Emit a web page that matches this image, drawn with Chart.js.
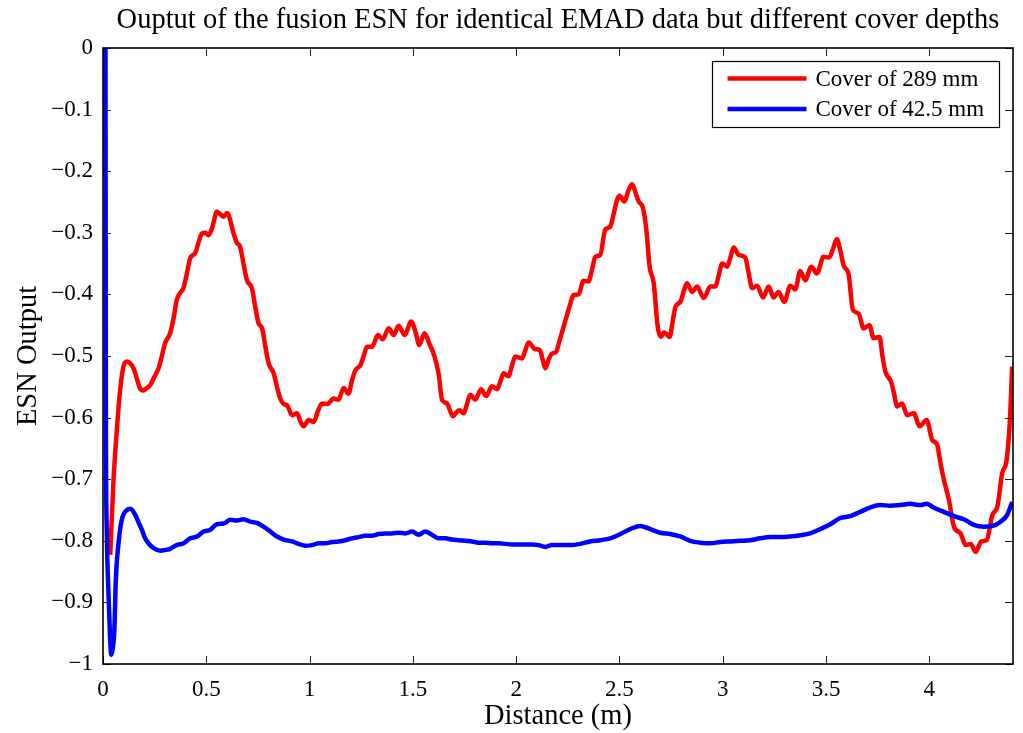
<!DOCTYPE html>
<html>
<head>
<meta charset="utf-8">
<script src="https://cdn.jsdelivr.net/npm/chart.js@4.4.1/dist/chart.umd.min.js"></script>
<style>
  html, body { margin: 0; padding: 0; background: #fff; }
  #esnChart { display: block; }
</style>
</head>
<body>
<canvas id="esnChart" width="1023" height="733"></canvas>
<script>
// ESN output along the scan, two cover depths
const seriesLabels = ['Cover of 289 mm', 'Cover of 42.5 mm'];

const redX = [0.035, 0.051, 0.067, 0.083, 0.099, 0.116, 0.132, 0.148, 0.165, 0.18, 0.196, 0.212, 0.229, 0.25, 0.269, 0.285,
  0.301, 0.325, 0.341, 0.357, 0.373, 0.389, 0.405, 0.422, 0.446, 0.463, 0.479, 0.495, 0.511, 0.53, 0.551, 0.568,
  0.584, 0.6, 0.608, 0.62, 0.632, 0.648, 0.664, 0.68, 0.697, 0.721, 0.737, 0.753, 0.77, 0.786, 0.802, 0.826,
  0.842, 0.858, 0.875, 0.891, 0.915, 0.939, 0.955, 0.971, 0.996, 1.02, 1.04, 1.06, 1.087, 1.116, 1.14, 1.165,
  1.189, 1.205, 1.222, 1.246, 1.262, 1.278, 1.302, 1.331, 1.354, 1.383, 1.407, 1.431, 1.46, 1.492, 1.512, 1.531,
  1.556, 1.58, 1.605, 1.625, 1.641, 1.665, 1.694, 1.71, 1.726, 1.746, 1.762, 1.778, 1.802, 1.83, 1.855, 1.883,
  1.907, 1.925, 1.939, 1.963, 1.98, 1.996, 2.028, 2.045, 2.06, 2.092, 2.114, 2.13, 2.141, 2.158, 2.173, 2.194,
  2.21, 2.237, 2.258, 2.278, 2.302, 2.326, 2.35, 2.367, 2.383, 2.407, 2.431, 2.455, 2.475, 2.488, 2.501, 2.523,
  2.545, 2.561, 2.578, 2.593, 2.614, 2.63, 2.646, 2.666, 2.685, 2.701, 2.715, 2.727, 2.743, 2.757, 2.771, 2.795,
  2.811, 2.827, 2.852, 2.876, 2.908, 2.94, 2.964, 2.98, 2.997, 3.021, 3.037, 3.053, 3.077, 3.109, 3.125, 3.142,
  3.166, 3.195, 3.222, 3.246, 3.27, 3.298, 3.327, 3.351, 3.375, 3.399, 3.429, 3.456, 3.488, 3.515, 3.535, 3.552,
  3.57, 3.585, 3.609, 3.63, 3.657, 3.682, 3.71, 3.73, 3.759, 3.773, 3.787, 3.815, 3.83, 3.844, 3.868, 3.893,
  3.925, 3.953, 3.987, 4.014, 4.038, 4.052, 4.067, 4.095, 4.119, 4.151, 4.176, 4.2, 4.224, 4.252, 4.278, 4.305,
  4.329, 4.353, 4.374, 4.39, 4.401];
const redY = [-0.823, -0.701, -0.62, -0.555, -0.517, -0.509, -0.512, -0.52, -0.538, -0.553, -0.556, -0.552, -0.547, -0.533, -0.52, -0.5,
  -0.479, -0.463, -0.44, -0.409, -0.398, -0.39, -0.368, -0.341, -0.333, -0.315, -0.301, -0.3, -0.304, -0.29, -0.266, -0.27,
  -0.274, -0.268, -0.271, -0.285, -0.301, -0.316, -0.323, -0.35, -0.377, -0.39, -0.42, -0.447, -0.455, -0.485, -0.512, -0.528,
  -0.55, -0.569, -0.578, -0.58, -0.596, -0.593, -0.606, -0.614, -0.604, -0.607, -0.59, -0.577, -0.578, -0.569, -0.571, -0.552,
  -0.561, -0.54, -0.523, -0.515, -0.5, -0.485, -0.485, -0.466, -0.473, -0.455, -0.466, -0.451, -0.466, -0.444, -0.46, -0.482,
  -0.463, -0.48, -0.501, -0.53, -0.571, -0.577, -0.598, -0.592, -0.588, -0.593, -0.578, -0.563, -0.571, -0.554, -0.565, -0.549,
  -0.554, -0.54, -0.528, -0.533, -0.515, -0.501, -0.504, -0.49, -0.478, -0.489, -0.49, -0.508, -0.52, -0.505, -0.496, -0.493,
  -0.475, -0.444, -0.42, -0.401, -0.4, -0.378, -0.379, -0.36, -0.339, -0.336, -0.295, -0.29, -0.265, -0.247, -0.24, -0.249,
  -0.23, -0.221, -0.235, -0.249, -0.26, -0.295, -0.355, -0.382, -0.452, -0.469, -0.462, -0.464, -0.469, -0.445, -0.42, -0.412,
  -0.395, -0.382, -0.396, -0.387, -0.406, -0.387, -0.387, -0.37, -0.35, -0.355, -0.34, -0.324, -0.336, -0.34, -0.365, -0.39,
  -0.386, -0.405, -0.387, -0.405, -0.396, -0.412, -0.386, -0.392, -0.362, -0.377, -0.355, -0.366, -0.339, -0.34, -0.325, -0.31,
  -0.33, -0.353, -0.367, -0.425, -0.431, -0.455, -0.45, -0.471, -0.469, -0.5, -0.525, -0.542, -0.562, -0.582, -0.577, -0.596,
  -0.593, -0.614, -0.604, -0.636, -0.644, -0.67, -0.696, -0.734, -0.777, -0.788, -0.807, -0.805, -0.818, -0.801, -0.799, -0.758,
  -0.745, -0.69, -0.669, -0.604, -0.517];

const blueX = [0.012, 0.013, 0.014, 0.018, 0.027, 0.034, 0.04, 0.047, 0.055, 0.062, 0.075, 0.091, 0.116, 0.132, 0.156, 0.172,
  0.188, 0.204, 0.22, 0.245, 0.277, 0.3, 0.325, 0.357, 0.39, 0.422, 0.455, 0.487, 0.519, 0.552, 0.584, 0.616,
  0.648, 0.68, 0.713, 0.745, 0.777, 0.81, 0.842, 0.874, 0.915, 0.947, 0.979, 1.012, 1.044, 1.076, 1.108, 1.14,
  1.173, 1.205, 1.237, 1.269, 1.302, 1.334, 1.366, 1.399, 1.431, 1.463, 1.496, 1.528, 1.56, 1.592, 1.625, 1.657,
  1.689, 1.721, 1.754, 1.786, 1.818, 1.85, 1.883, 1.915, 1.948, 1.98, 2.012, 2.044, 2.077, 2.109, 2.141, 2.173,
  2.213, 2.261, 2.31, 2.358, 2.407, 2.455, 2.504, 2.552, 2.6, 2.625, 2.649, 2.697, 2.746, 2.794, 2.842, 2.891,
  2.939, 2.988, 3.036, 3.084, 3.133, 3.181, 3.23, 3.278, 3.326, 3.375, 3.423, 3.472, 3.52, 3.568, 3.617, 3.665,
  3.713, 3.762, 3.81, 3.859, 3.907, 3.955, 3.988, 4.02, 4.07, 4.119, 4.167, 4.215, 4.264, 4.304, 4.345, 4.377,
  4.401];
const blueY = [0, -0.3, -0.6, -0.78, -0.89, -0.955, -0.985, -0.975, -0.945, -0.864, -0.804, -0.766, -0.75, -0.748, -0.758, -0.77,
  -0.782, -0.796, -0.804, -0.812, -0.816, -0.815, -0.813, -0.807, -0.804, -0.796, -0.793, -0.785, -0.782, -0.773, -0.772, -0.766,
  -0.767, -0.765, -0.769, -0.771, -0.777, -0.785, -0.793, -0.798, -0.801, -0.805, -0.808, -0.807, -0.804, -0.804, -0.802, -0.801,
  -0.799, -0.796, -0.794, -0.792, -0.792, -0.789, -0.788, -0.788, -0.787, -0.788, -0.785, -0.79, -0.785, -0.79, -0.796, -0.796,
  -0.798, -0.799, -0.8, -0.801, -0.803, -0.803, -0.804, -0.804, -0.805, -0.806, -0.806, -0.806, -0.806, -0.807, -0.81, -0.807,
  -0.807, -0.807, -0.805, -0.801, -0.799, -0.796, -0.789, -0.781, -0.776, -0.778, -0.781, -0.787, -0.789, -0.793, -0.8, -0.803,
  -0.804, -0.802, -0.801, -0.8, -0.799, -0.796, -0.794, -0.794, -0.793, -0.791, -0.788, -0.781, -0.773, -0.763, -0.76, -0.753,
  -0.746, -0.742, -0.743, -0.742, -0.74, -0.742, -0.74, -0.746, -0.753, -0.76, -0.765, -0.774, -0.777, -0.776, -0.769, -0.758,
  -0.737];

const xTicks = [0, 0.5, 1, 1.5, 2, 2.5, 3, 3.5, 4];
const yTicks = [0, -0.1, -0.2, -0.3, -0.4, -0.5, -0.6, -0.7, -0.8, -0.9, -1];
const xMax = 4.405;

const serif = "'Liberation Serif', 'Times New Roman', serif";
const toPoints = (xs, ys) => xs.map((x, i) => ({ x: x, y: ys[i] }));

// matlab-style negative numbers with a real minus sign
function fmtY(v) {
  const r = Math.round(v * 10) / 10;
  if (r === 0) return '0';
  const s = Number.isInteger(r) ? String(Math.abs(r)) : Math.abs(r).toFixed(1);
  return (r < 0 ? '\u2212' : '') + s;
}

// box round the axes plus inward tick marks on all four sides
const axesBox = {
  id: 'axesBox',
  afterDatasetsDraw(chart) {
    const { ctx, chartArea: a, scales } = chart;
    const len = 8;
    ctx.save();
    ctx.strokeStyle = '#222';
    ctx.lineWidth = 1;
    ctx.beginPath();
    xTicks.forEach(v => {
      const px = Math.round(scales.x.getPixelForValue(v)) + 0.5;
      ctx.moveTo(px, a.bottom); ctx.lineTo(px, a.bottom - len);
      ctx.moveTo(px, a.top); ctx.lineTo(px, a.top + len);
    });
    yTicks.forEach(v => {
      const py = Math.round(scales.y.getPixelForValue(v)) + 0.5;
      ctx.moveTo(a.left, py); ctx.lineTo(a.left + len, py);
      ctx.moveTo(a.right, py); ctx.lineTo(a.right - len, py);
    });
    ctx.stroke();
    ctx.strokeStyle = '#000';
    ctx.lineWidth = 1.6;
    ctx.strokeRect(a.left, a.top, a.right - a.left, a.bottom - a.top);
    ctx.restore();
  }
};

// legend box in the upper right corner of the axes
const boxLegend = {
  id: 'boxLegend',
  afterDraw(chart) {
    const { ctx, chartArea: a } = chart;
    const w = 287, h = 66;
    const x0 = a.right - 13.5 - w, y0 = a.top + 13.5;
    ctx.save();
    ctx.fillStyle = '#fff';
    ctx.fillRect(x0, y0, w, h);
    ctx.strokeStyle = '#000';
    ctx.lineWidth = 1.2;
    ctx.strokeRect(x0, y0, w, h);
    ctx.font = '23px ' + serif;
    ctx.textBaseline = 'middle';
    ctx.textAlign = 'left';
    chart.data.datasets.forEach((ds, i) => {
      const cy = y0 + 17 + i * 30.5;
      ctx.strokeStyle = ds.borderColor;
      ctx.lineWidth = 4.5;
      ctx.beginPath();
      ctx.moveTo(x0 + 15, cy);
      ctx.lineTo(x0 + 94, cy);
      ctx.stroke();
      ctx.fillStyle = '#000';
      ctx.fillText(ds.label, x0 + 103, cy + 1);
    });
    ctx.restore();
  }
};

const chart = new Chart(document.getElementById('esnChart'), {
  type: 'line',
  data: {
    datasets: [
      {
        label: seriesLabels[0],
        data: toPoints(redX, redY),
        borderColor: 'rgb(255, 0, 0)',
        borderWidth: 4.5,
        pointRadius: 0,
        cubicInterpolationMode: 'monotone',
        borderJoinStyle: 'round',
        fill: false,
        order: 1
      },
      {
        label: seriesLabels[1],
        data: toPoints(blueX, blueY),
        borderColor: 'rgb(0, 0, 255)',
        borderWidth: 4.5,
        pointRadius: 0,
        cubicInterpolationMode: 'monotone',
        borderJoinStyle: 'round',
        fill: false,
        order: 0
      }
    ]
  },
  options: {
    responsive: false,
    devicePixelRatio: 1,
    animation: false,
    layout: { padding: { left: 0, right: 10, top: 0, bottom: 0 } },
    plugins: {
      legend: { display: false },
      tooltip: { enabled: false },
      title: {
        display: true,
        fullSize: false,
        text: 'Ouptut of the fusion ESN for identical EMAD data but different cover depths',
        color: '#000',
        font: { family: serif, size: 28.5, weight: 'normal', lineHeight: 1.2 },
        padding: { top: 3, bottom: 10.8 }
      }
    },
    scales: {
      x: {
        type: 'linear',
        min: 0,
        max: xMax,
        afterFit(scale) { scale.height = 69; },
        afterBuildTicks(scale) { scale.ticks = xTicks.map(v => ({ value: v })); },
        grid: { display: false, drawTicks: false },
        border: { display: false },
        ticks: {
          includeBounds: false,
          padding: 12,
          color: '#000',
          font: { family: serif, size: 23 },
          callback: v => String(v)
        },
        title: {
          display: true,
          text: 'Distance (m)',
          color: '#000',
          font: { family: serif, size: 28.5, lineHeight: 1 },
          padding: { top: 0, bottom: 2 }
        }
      },
      y: {
        type: 'linear',
        min: -1,
        max: 0,
        afterFit(scale) { scale.width = 103; },
        afterBuildTicks(scale) { scale.ticks = yTicks.map(v => ({ value: v })); },
        grid: { display: false, drawTicks: false },
        border: { display: false },
        ticks: {
          padding: 10,
          color: '#000',
          font: { family: serif, size: 23 },
          callback: v => fmtY(v)
        },
        title: {
          display: true,
          text: 'ESN Output',
          color: '#000',
          font: { family: serif, size: 28.5, lineHeight: 1 },
          padding: { top: 14, bottom: 0 }
        }
      }
    }
  },
  plugins: [axesBox, boxLegend]
});
</script>
</body>
</html>
